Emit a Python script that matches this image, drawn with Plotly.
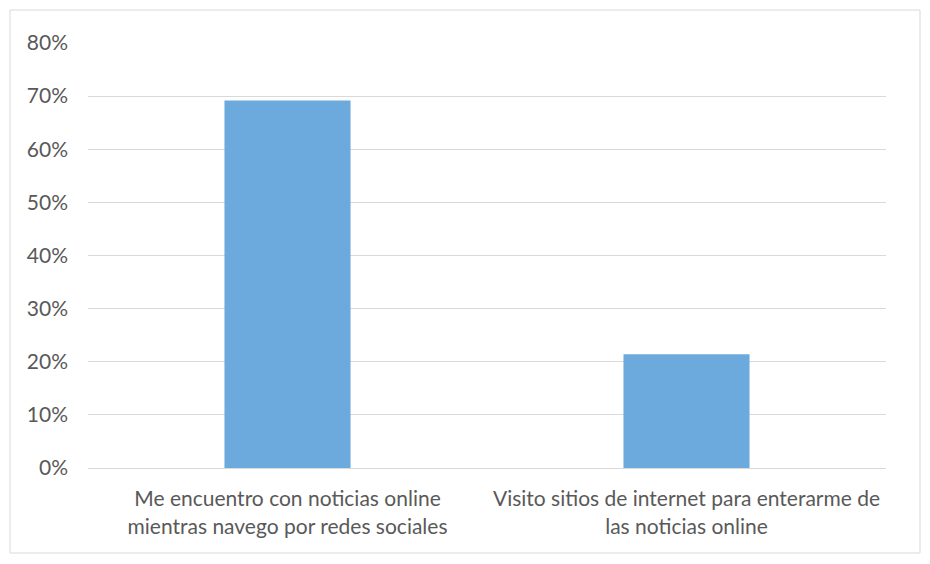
import plotly.graph_objects as go

categories = [
    "Me encuentro con noticias online<br>mientras navego por redes sociales",
    "Visito sitios de internet para enterarme de<br>las noticias online",
]
values = [0.692, 0.214]

FONT = "Lato, Open Sans, sans-serif"
GRAY = "#595959"

fig = go.Figure()

fig.add_trace(go.Bar(
    x=categories,
    y=values,
    width=0.316,
    marker=dict(color="#6CAADD", line=dict(width=0)),
    hoverinfo="x+y",
))

fig.update_layout(
    width=922,
    height=556,
    margin=dict(l=80, r=44, t=35, b=96),
    paper_bgcolor="white",
    plot_bgcolor="white",
    showlegend=False,
    font=dict(family=FONT, size=21, color=GRAY),
    shapes=[dict(
        type="rect",
        xref="paper", yref="paper",
        x0=-0.0977, x1=1.0426, y0=-0.2, y1=1.0776,
        line=dict(color="#d9d9d9", width=1),
        fillcolor="rgba(0,0,0,0)",
        layer="below",
    )],
)

fig.update_xaxes(
    showgrid=False,
    showline=True,
    linecolor="#d9d9d9",
    ticks="",
    ticklabelstandoff=12,
    tickfont=dict(family=FONT, size=21, color=GRAY),
)

fig.update_yaxes(
    range=[0, 0.8],
    dtick=0.1,
    tickformat=".0%",
    showgrid=True,
    gridcolor="#d9d9d9",
    zeroline=False,
    showline=False,
    ticks="",
    ticklabelstandoff=19,
    tickfont=dict(family=FONT, size=21, color=GRAY),
)

fig.write_html("out.html")
